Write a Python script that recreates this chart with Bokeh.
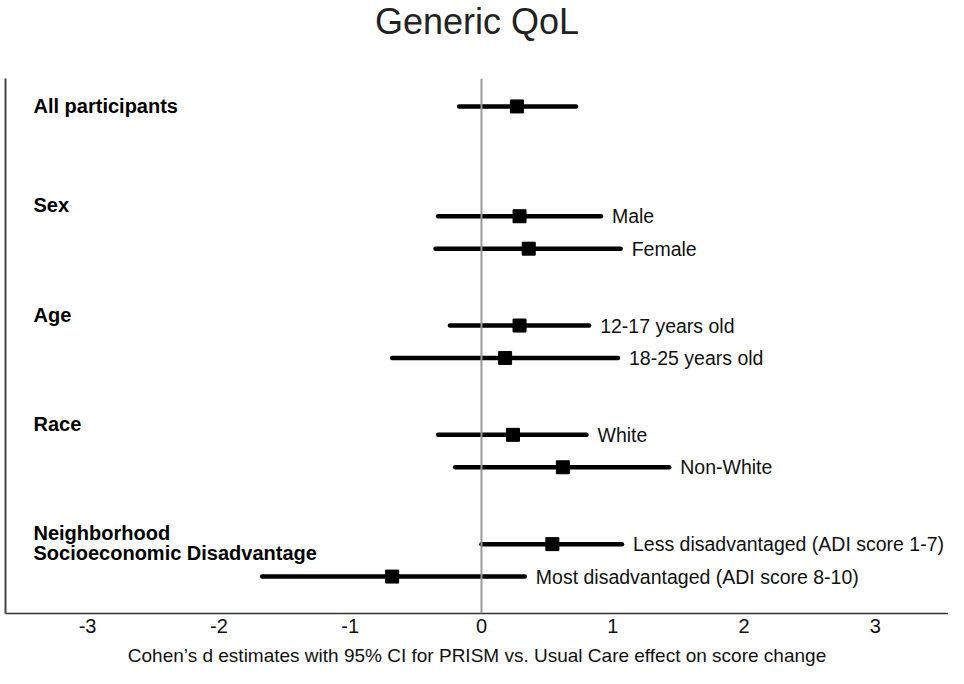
from bokeh.plotting import figure
from bokeh.models import Range1d, FixedTicker, Span, ColumnDataSource, Title
from bokeh.core.properties import value
from bokeh.embed import file_html
from bokeh.resources import INLINE

# ---- data ----
groups = ["All participants", "Sex", "Age", "Race", "Neighborhood\nSocioeconomic Disadvantage"]
subgroups = ["", "Male", "Female", "12-17 years old", "18-25 years old", "White", "Non-White",
             "Less disadvantaged (ADI score 1-7)", "Most disadvantaged (ADI score 8-10)"]
subgroup_group = [0, 1, 1, 2, 2, 3, 3, 4, 4]
estimate = [0.27, 0.29, 0.36, 0.29, 0.18, 0.24, 0.62, 0.54, -0.68]
ci_lower = [-0.17, -0.33, -0.35, -0.24, -0.68, -0.33, -0.20, 0.00, -1.67]
ci_upper = [0.72, 0.91, 1.06, 0.82, 1.04, 0.80, 1.43, 1.07, 0.33]
x_ticks = [-3, -2, -1, 0, 1, 2, 3]
title_text = "Generic QoL"
x_label = "Cohen\u2019s d estimates with 95% CI for PRISM vs. Usual Care effect on score change"

# ---- layout of rows (vertical positions, pixel-like units from top of plot area) ----
FIRST_ROW = 28
FIRST_GAP = 110
ROW_STEP = 32.5
GROUP_GAP = 77
row_y = []
y = FIRST_ROW
for i, g in enumerate(subgroup_group):
    if i > 0:
        if g != subgroup_group[i - 1]:
            y += FIRST_GAP if subgroup_group[i - 1] == 0 else GROUP_GAP
        else:
            y += ROW_STEP
    row_y.append(y)

head_text, head_y = [], []
for gi, gname in enumerate(groups):
    first = subgroup_group.index(gi)
    base = row_y[first] if subgroups[first] == "" else row_y[first] - 11
    for li, line in enumerate(gname.split("\n")):
        head_text.append(line)
        head_y.append(base + 20 * li)

FONT = "Liberation Sans"
X0, X1 = -3.625, 3.557
FRAME_H = 536

p = figure(width=948, height=668, output_backend="svg", toolbar_location=None,
           x_range=Range1d(X0, X1), y_range=Range1d(FRAME_H, 0),
           min_border_left=5, min_border_right=0, min_border_top=78, min_border_bottom=0,
           title=None)

# spacer between the title and the plot area, then the title itself
p.add_layout(Title(text=" ", text_font_size="2px", standoff=31), "above")
p.add_layout(Title(text=title_text, align="center", offset=5, vertical_align="top",
                   standoff=0, text_font=FONT, text_font_size="36px",
                   text_font_style="normal", text_color="#222222"), "above")

p.outline_line_color = None
p.xgrid.visible = False
p.ygrid.visible = False
p.background_fill_color = "white"
p.border_fill_color = "white"

# x axis
xa = p.xaxis[0]
xa.ticker = FixedTicker(ticks=x_ticks)
xa.major_label_overrides = {t: str(t) for t in x_ticks}
xa.major_tick_out = 0
xa.major_tick_in = 0
xa.minor_tick_out = 0
xa.minor_tick_in = 0
xa.major_label_standoff = 5
xa.major_label_text_font = FONT
xa.major_label_text_font_size = "20px"
xa.major_label_text_color = "#111111"
xa.axis_line_color = "#333333"
xa.axis_line_width = 1.5
xa.axis_label = x_label
xa.axis_label_text_font = FONT
xa.axis_label_text_font_size = "19px"
xa.axis_label_text_font_style = "normal"
xa.axis_label_text_color = "#111111"
xa.axis_label_standoff = 9

# y axis: line only
ya = p.yaxis[0]
ya.ticker = FixedTicker(ticks=[])
ya.major_tick_out = 0
ya.major_tick_in = 0
ya.minor_tick_out = 0
ya.minor_tick_in = 0
ya.major_label_text_font_size = "0px"
ya.major_label_standoff = 0
ya.axis_line_color = "#444444"
ya.axis_line_width = 2

# zero reference line
p.add_layout(Span(location=0, dimension="height", line_color="#999999", line_width=2))

src = ColumnDataSource(dict(y=row_y, est=estimate, lo=ci_lower, hi=ci_upper, lab=subgroups))
p.segment(x0="lo", x1="hi", y0="y", y1="y", source=src, line_color="black",
          line_width=4.5, line_cap="round")
p.scatter(x="est", y="y", source=src, marker="square", size=13, fill_color="black",
          line_color="black")
p.text(x="hi", y="y", text="lab", source=src, x_offset=11,
       text_font=value(FONT), text_font_size="19.5px", text_baseline="middle",
       text_align="left", text_color="#111111")

hsrc = ColumnDataSource(dict(x=[X0] * len(head_text), y=head_y, t=head_text))
p.text(x="x", y="y", text="t", source=hsrc, x_offset=28,
       text_font=value(FONT), text_font_size="20px", text_font_style="bold",
       text_baseline="middle", text_align="left", text_color="#000000")

open("out.html", "w").write(file_html(p, INLINE))
